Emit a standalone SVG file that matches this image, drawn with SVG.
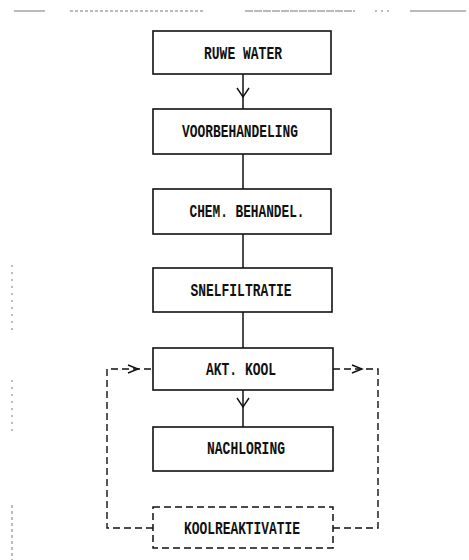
<svg xmlns="http://www.w3.org/2000/svg" width="469" height="560" viewBox="0 0 469 560">
<style>
.box{fill:#fff;stroke:#111;stroke-width:1.6}
.dbox{fill:#fff;stroke:#111;stroke-width:1.5;stroke-dasharray:7,4}
.lbl{font-family:"Liberation Mono",monospace;font-size:18px;font-weight:bold;fill:#111;text-anchor:middle}
.ln{stroke:#111;stroke-width:1.5;fill:none}
.dl{stroke:#111;stroke-width:1.4;fill:none;stroke-dasharray:7,4}
.ah{stroke:#111;stroke-width:1.4;fill:none}
.scan{stroke:#777;stroke-width:1;fill:none}
</style>
<rect width="469" height="560" fill="#fff"/>
<g id="scan-marks">
<line class="scan" x1="14" y1="11" x2="45" y2="11" stroke="#222"/>
<line class="scan" x1="70" y1="11" x2="205" y2="11" stroke-dasharray="3,2"/>
<line class="scan" x1="245" y1="11" x2="355" y2="11" stroke-dasharray="8,1"/>
<line class="scan" x1="375" y1="11" x2="390" y2="11" stroke-dasharray="2,4"/>
<line class="scan" x1="410" y1="11" x2="466" y2="11" stroke="#222"/>
<line class="scan" x1="12" y1="265" x2="12" y2="335" stroke-dasharray="2,5" stroke="#aaa"/>
<line class="scan" x1="12" y1="380" x2="12" y2="435" stroke-dasharray="2,5" stroke="#aaa"/>
<line class="scan" x1="12" y1="505" x2="12" y2="560" stroke-dasharray="3,3" stroke="#999"/>
</g>
<g id="connectors">
<line class="ln" x1="243" y1="74" x2="243" y2="109"/>
<polyline class="ah" points="237,88 243,97 249,88"/>
<line class="ln" x1="243" y1="154" x2="243" y2="189"/>
<line class="ln" x1="243" y1="234" x2="243" y2="268"/>
<line class="ln" x1="243" y1="312" x2="243" y2="348"/>
<line class="ln" x1="243" y1="390" x2="243" y2="427"/>
<polyline class="ah" points="237,398 243,407 249,398"/>
<polyline class="dl" points="153,528 107,528 107,369 153,369"/>
<polyline class="ah" points="128,365 138,369 128,373"/>
<polyline class="dl" points="333,369 378,369 378,528 333,528"/>
<polyline class="ah" points="352,365 362,369 352,373"/>
</g>
<g id="n1"><rect class="box" x="153" y="31" width="178" height="43"/><text class="lbl" x="243" y="59" textLength="78" lengthAdjust="spacingAndGlyphs">RUWE WATER</text></g>
<g id="n2"><rect class="box" x="153" y="109" width="178" height="45"/><text class="lbl" x="240" y="137" textLength="116" lengthAdjust="spacingAndGlyphs">VOORBEHANDELING</text></g>
<g id="n3"><rect class="box" x="153" y="189" width="178" height="45"/><text class="lbl" x="247" y="217" textLength="115" lengthAdjust="spacingAndGlyphs">CHEM. BEHANDEL.</text></g>
<g id="n4"><rect class="box" x="153" y="268" width="179" height="44"/><text class="lbl" x="241" y="296" textLength="101" lengthAdjust="spacingAndGlyphs">SNELFILTRATIE</text></g>
<g id="n5"><rect class="box" x="153" y="348" width="180" height="42"/><text class="lbl" x="241" y="375" textLength="70" lengthAdjust="spacingAndGlyphs">AKT. KOOL</text></g>
<g id="n6"><rect class="box" x="153" y="427" width="180" height="44"/><text class="lbl" x="246" y="454" textLength="78" lengthAdjust="spacingAndGlyphs">NACHLORING</text></g>
<g id="n7"><rect class="dbox" x="153" y="507" width="180" height="41"/><text class="lbl" x="242" y="534" textLength="116" lengthAdjust="spacingAndGlyphs">KOOLREAKTIVATIE</text></g>
</svg>
